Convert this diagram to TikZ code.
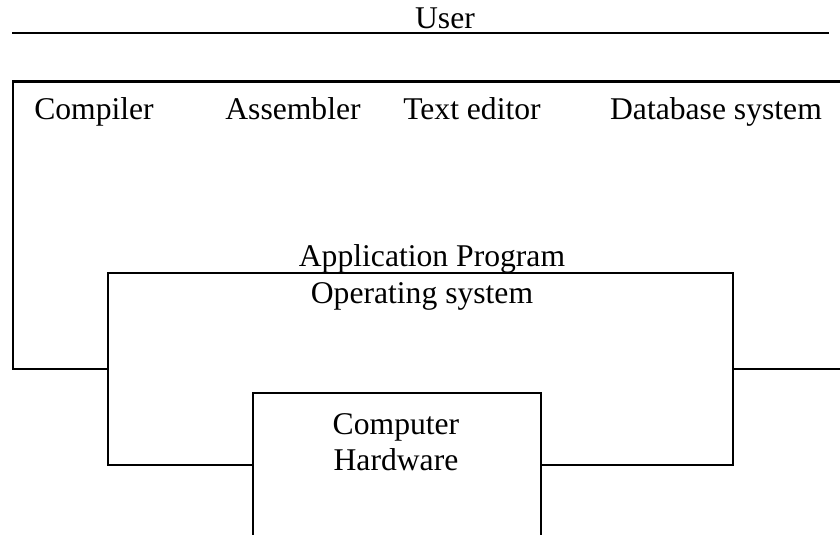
\documentclass[tikz,border=0pt]{standalone}
\usepackage{fontspec}
\setmainfont{Liberation Serif}
\usetikzlibrary{positioning}
\tikzset{lbl/.style={font=\fontsize{22.5}{26.3}\selectfont, inner sep=0pt, anchor=base}}
\tikzset{layer/.style={line width=1.5pt}}

\begin{document}
\begin{tikzpicture}
	\useasboundingbox (0,0) rectangle (21,13.375);
	% user line
	\node[lbl] (user) at (11.125,12.65) {User};
	\draw[layer] (0.3,12.55) -- (20.725,12.55);
	% application programs
	\draw[layer] (2.7,4.15) -- (0.325,4.15) -- (0.325,11.3375) -- (21,11.3375);
	\draw[layer] (18.325,4.15) -- (21,4.15);
	\node[lbl] (compiler) at (2.35,10.375) {Compiler};
	\node[lbl] (assembler) at (7.325,10.375) {Assembler};
	\node[lbl] (editor) at (11.8,10.375) {Text editor};
	\node[lbl] (dbms) at (17.9,10.375) {Database system};
	\node[lbl] (app) at (10.8,6.7) {Application Program};
	% operating system
	\draw[layer] (6.325,1.75) -- (2.7,1.75) -- (2.7,6.55) -- (18.325,6.55) -- (18.325,1.75) -- (13.525,1.75);
	\node[lbl] (os) at (10.55,5.775) {Operating system};
	% hardware
	\draw[layer] (6.325,0) -- (6.325,3.55) -- (13.525,3.55) -- (13.525,0);
	\node[lbl, align=center] (hw) at (9.9,1.6) {Computer\\Hardware};
\end{tikzpicture}
\end{document}
